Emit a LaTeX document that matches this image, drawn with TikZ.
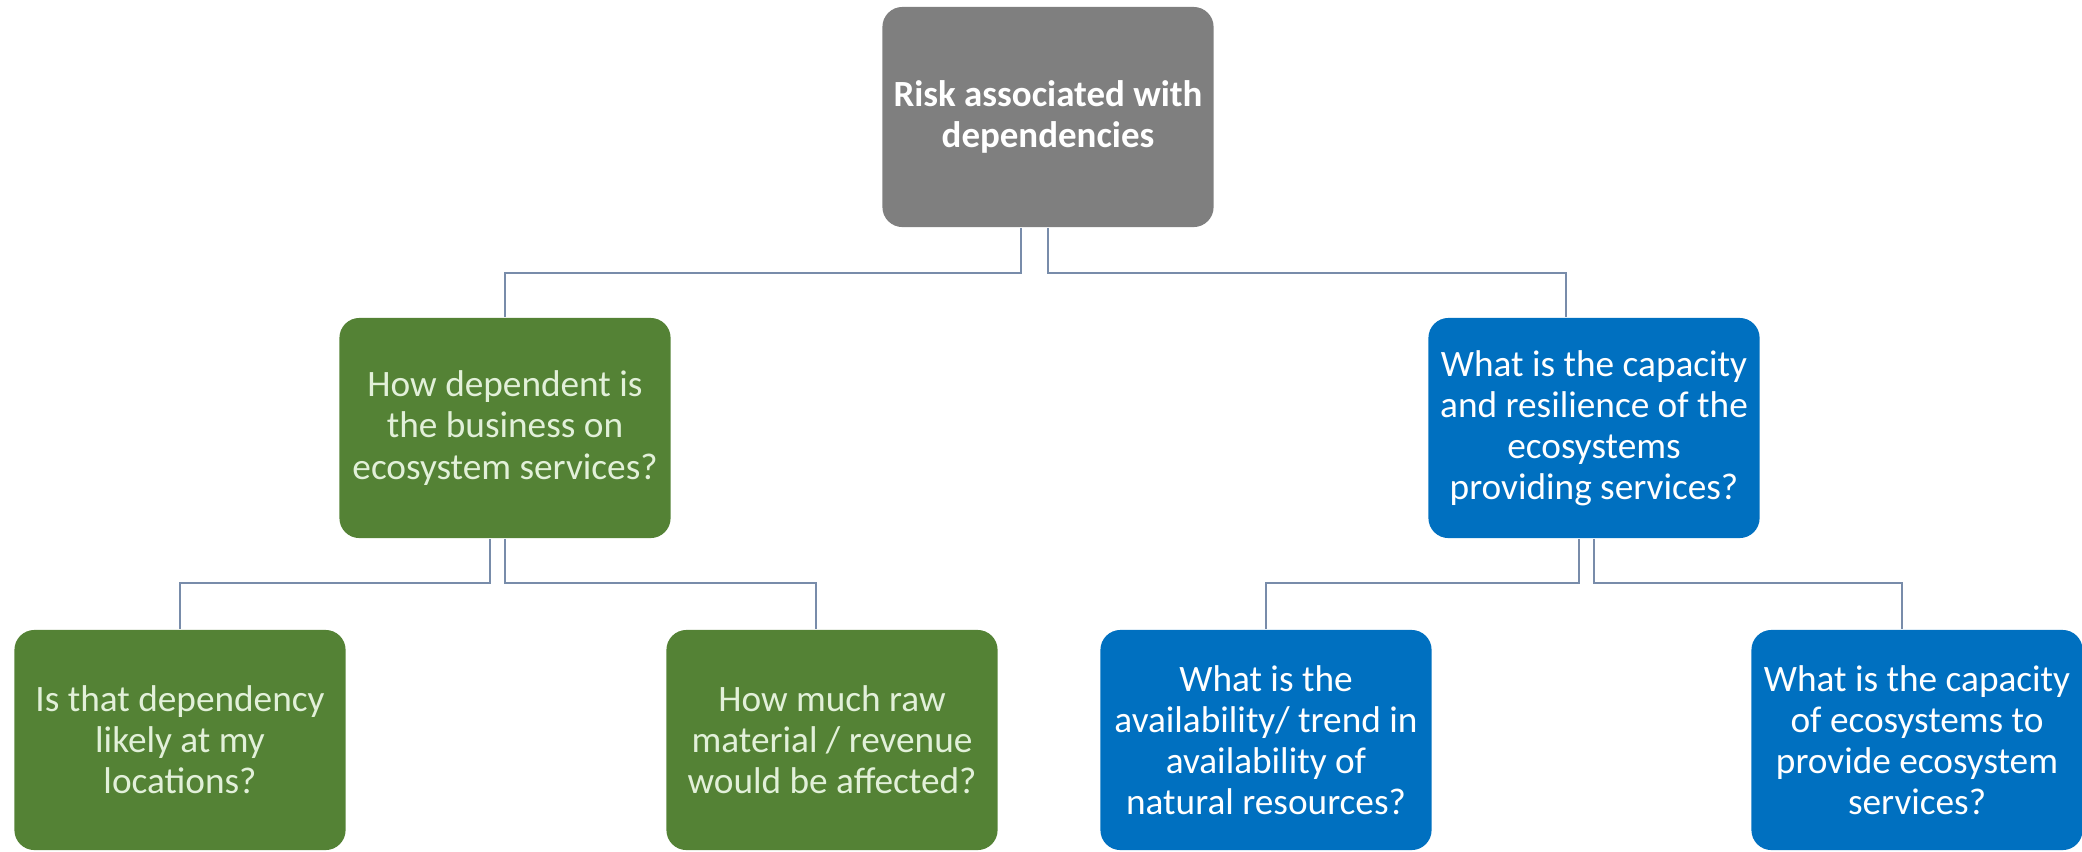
\documentclass[tikz,border=0pt]{standalone}
\usepackage{fontspec}
\setmainfont{Carlito}
\usepackage{tikz}
\usetikzlibrary{arrows.meta}
\definecolor{rdgrey}{RGB}{127,127,127}
\definecolor{rdgreen}{RGB}{84,130,53}
\definecolor{rdblue}{RGB}{0,112,192}
\definecolor{rdpale}{RGB}{226,240,217}
\definecolor{rdline}{RGB}{120,140,170}
\tikzset{
  box/.style={rounded corners=0.2cm, align=center, inner sep=0pt,
              minimum width=3.31cm, minimum height=2.2cm,
              font=\fontsize{10.6pt}{11.7pt}\selectfont},
  top/.style={box, fill=rdgrey, text=white, font=\fontsize{10.5pt}{11.7pt}\selectfont\bfseries},
  grn/.style={box, fill=rdgreen, text=rdpale},
  blu/.style={box, fill=rdblue, text=white},
  link/.style={draw=rdline, line width=0.6pt}
}
\begin{document}
\begin{tikzpicture}[x=0.01cm, y=-0.01cm]
  \useasboundingbox (0,0) rectangle (2082,851);
  % level 1
  \node[top] (risk) at (1048,117) {Risk associated with\\dependencies};
  % level 2
  \node[grn] (dep) at (505,428) {How dependent is\\the business on\\ecosystem services?};
  \node[blu] (cap) at (1594,428) {What is the capacity\\and resilience of the\\ecosystems\\providing services?};
  % level 3
  \node[grn] (loc) at (180,740) {Is that dependency\\likely at my\\locations?};
  \node[grn] (raw) at (832,740) {How much raw\\material / revenue\\would be affected?};
  \node[blu] (avl) at (1266,740) {What is the\\availability/ trend in\\availability of\\natural resources?};
  \node[blu] (eco) at (1917,740) {What is the capacity\\of ecosystems to\\provide ecosystem\\services?};

  \draw[link] ([xshift=-0.27cm]risk.south) -- ++(0,45) -| (dep.north);
  \draw[link] (risk.south) -- ++(0,45) -| ([xshift=-0.28cm]cap.north);
  \draw[link] ([xshift=-0.15cm]dep.south) -- ++(0,44) -| (loc.north);
  \draw[link] (dep.south) -- ++(0,44) -| ([xshift=-0.16cm]raw.north);
  \draw[link] ([xshift=-0.15cm]cap.south) -- ++(0,44) -| (avl.north);
  \draw[link] (cap.south) -- ++(0,44) -| ([xshift=-0.15cm]eco.north);
\end{tikzpicture}
\end{document}
